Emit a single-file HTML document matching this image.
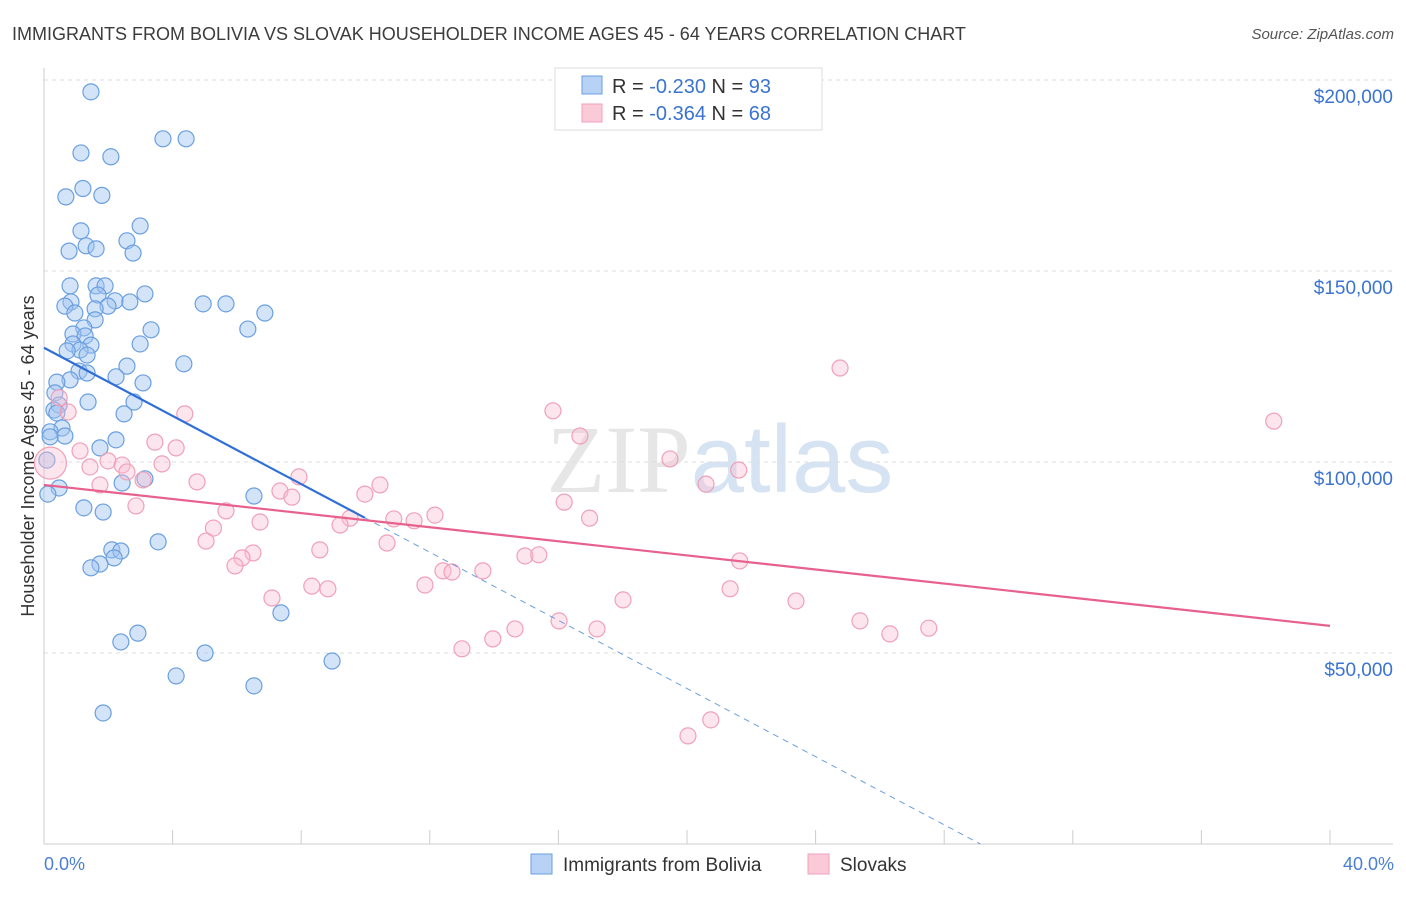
<!DOCTYPE html>
<html><head><meta charset="utf-8"><style>
body{margin:0;background:#fff;font-family:"Liberation Sans",sans-serif}
</style></head><body>
<svg id="chart" width="1406" height="892" xmlns="http://www.w3.org/2000/svg" font-family="Liberation Sans, sans-serif">
<text x="12" y="40" font-size="18" fill="#3c3c3c">IMMIGRANTS FROM BOLIVIA VS SLOVAK HOUSEHOLDER INCOME AGES 45 - 64 YEARS CORRELATION CHART</text>
<text x="1394" y="39" font-size="15" fill="#555" font-style="italic" text-anchor="end">Source: ZipAtlas.com</text>
<text x="720" y="492" font-size="96" text-anchor="middle" fill="#e6e6e6" font-family="Liberation Serif, serif">ZIP<tspan fill="#d5e3f3" font-family="Liberation Sans, sans-serif">atlas</tspan></text>
<g id="grid"></g><g id="axes"></g><g id="pts"></g><g id="trend"></g>
<text transform="translate(34,456) rotate(-90)" font-size="18" fill="#333" text-anchor="middle">Householder Income Ages 45 - 64 years</text>
<text x="44" y="870" font-size="18" fill="#4a7fd4">0.0%</text>
<text x="1394" y="870" font-size="18" fill="#4a7fd4" text-anchor="end">40.0%</text>
<g>
<rect x="555" y="68" width="267" height="62" fill="#fff" stroke="#ddd"/>
<rect x="582" y="76" width="20" height="18" fill="#b8d2f5" stroke="#6a9fe0"/>
<rect x="582" y="104" width="20" height="18" fill="#fbcad8" stroke="#f0a0b8"/>
<text x="612" y="93" font-size="20" fill="#333">R = <tspan fill="#3a74d0">-0.230</tspan>   N = <tspan fill="#3a74d0">93</tspan></text>
<text x="612" y="120" font-size="20" fill="#333">R = <tspan fill="#3a74d0">-0.364</tspan>   N = <tspan fill="#3a74d0">68</tspan></text>
</g>
<g><rect x="531" y="854" width="21" height="20" fill="#b8d2f5" stroke="#6a9fe0"/><text x="563" y="871" font-size="19" fill="#333">Immigrants from Bolivia</text></g>
<g><rect x="808" y="854" width="21" height="20" fill="#fbcad8" stroke="#f0a0b8"/><text x="840" y="871" font-size="19" fill="#333">Slovaks</text></g>
</svg>
<script>
const yTicks=[50,100,150,200];
const yTickLabels=["$50,000","$100,000","$150,000","$200,000"];
const xTicks=[0,4,8,12,16,20,24,28,32,36,40];
const blueX=[1.46,3.70,4.42,1.15,2.08,1.21,1.80,0.68,2.99,1.15,2.58,1.31,1.62,0.78,2.77,0.81,1.62,1.90,3.14,1.68,0.84,2.21,2.67,0.65,1.99,4.95,5.66,1.59,0.96,6.87,1.59,1.24,3.33,6.34,0.90,1.28,0.90,1.46,2.99,1.12,0.72,1.34,4.35,2.58,1.09,1.34,2.24,0.81,0.40,3.08,0.34,1.37,2.80,0.47,0.31,2.49,0.40,0.56,0.19,0.65,0.19,2.24,1.74,0.09,3.14,2.43,0.47,0.12,6.53,1.24,1.84,3.55,2.11,2.39,2.18,1.74,1.46,7.37,2.92,2.39,5.01,8.96,4.11,6.53,1.84];
const blueY=[196.9,184.6,184.6,180.9,179.9,171.6,169.8,169.4,161.8,160.5,157.9,156.6,155.8,155.2,154.7,146.1,146.1,146.1,144.0,143.7,141.9,142.2,141.9,140.8,140.8,141.4,141.4,140.1,139.0,139.0,137.2,135.1,134.6,134.8,133.5,133.0,130.9,130.6,130.9,129.3,129.1,128.0,125.7,125.1,123.8,123.3,122.3,121.5,120.9,120.7,118.1,115.7,115.7,114.9,113.6,112.6,112.8,108.9,107.9,106.8,106.6,105.8,103.7,100.5,95.6,94.5,93.2,91.6,91.1,88.0,86.9,79.1,77.0,76.7,74.9,73.3,72.3,60.5,55.2,52.9,50.0,47.9,44.0,41.4,34.3];
const pinkX=[0.2,24.76,38.25,15.83,4.38,0.47,0.75,16.67,3.45,4.11,1.12,19.47,1.99,3.67,2.43,1.43,21.61,2.58,7.93,3.08,10.45,20.59,1.74,4.76,7.34,9.98,7.71,16.18,2.86,5.66,12.16,16.97,6.72,10.88,11.51,9.52,9.21,5.27,5.04,10.67,8.58,6.50,6.16,14.96,15.39,21.64,5.94,12.41,12.69,13.65,11.85,8.33,8.83,21.34,7.09,18.01,23.39,16.02,25.38,14.65,17.20,27.52,26.31,13.96,13.00,20.74,20.03];
const pinkY=[99.7,124.6,110.7,113.4,112.6,116.8,113.1,106.8,105.2,103.7,102.9,100.8,100.3,99.5,99.2,98.7,97.9,97.4,96.1,95.3,94.0,94.2,94.0,94.8,92.4,91.6,90.8,89.5,88.5,87.2,86.1,85.3,84.3,85.1,84.6,85.3,83.5,82.7,79.3,78.8,77.0,76.2,74.9,75.4,75.7,74.1,72.8,71.5,71.2,71.5,67.8,67.5,66.8,66.8,64.4,63.9,63.6,58.4,58.4,56.3,56.3,56.5,55.0,53.7,51.1,32.5,28.3];
const blueTrend=[129.9,-4.46]; const blueSolidEnd=9.98;
const pinkTrend=[94.0,-0.9225];
const X=v=>44+v/40*1286, Y=v=>844-v/50*191;
const NS="http://www.w3.org/2000/svg";
function mk(p,t,a){const e=document.createElementNS(NS,t);for(const k in a)e.setAttribute(k,a[k]);document.getElementById(p).appendChild(e);return e;}
yTicks.forEach((t,i)=>{
 const l=mk('grid','line',{x1:44,x2:1393,y1:Y(t),y2:Y(t),stroke:'#ddd','stroke-dasharray':'4,4'});
 
 
 const tx=mk('grid','text',{x:1393,y:Y(t)+23,'font-size':19,fill:'#3a74d0','text-anchor':'end'});
 tx.textContent=yTickLabels[i];
 
 
});
const ax=mk('axes','line',{x1:44,x2:44,y1:68,y2:844,stroke:'#ccc'});


const bx=mk('axes','line',{x1:44,x2:1393,y1:844,y2:844,stroke:'#ccc'});


xTicks.forEach(t=>{const l=mk('axes','line',{x1:X(t),x2:X(t),y1:830,y2:844,stroke:'#ccc'});
 
 });
blueX.forEach((x,i)=>{const c=mk('pts','circle',{cx:X(x),cy:Y(blueY[i]),r:8,fill:'rgba(160,195,240,0.45)',stroke:'#6a9fe0','stroke-width':1.2});
 
 });
pinkX.forEach((x,i)=>{const c=mk('pts','circle',{cx:X(x),cy:Y(pinkY[i]),r:i==0?16:8,fill:'rgba(250,190,210,0.4)',stroke:'#f0a0b8','stroke-width':1.2});
 
 });
const bz=-blueTrend[0]/blueTrend[1];
const b1=mk('trend','line',{x1:X(0),y1:Y(blueTrend[0]),x2:X(blueSolidEnd),y2:Y(blueTrend[0]+blueTrend[1]*blueSolidEnd),stroke:'#2f6fd6','stroke-width':2.2});


const b2=mk('trend','line',{x1:X(blueSolidEnd),y1:Y(blueTrend[0]+blueTrend[1]*blueSolidEnd),x2:X(bz),y2:Y(0),stroke:'#6a9fe0','stroke-width':1,'stroke-dasharray':'6,5'});


const p1=mk('trend','line',{x1:X(0),y1:Y(pinkTrend[0]),x2:X(40),y2:Y(pinkTrend[0]+pinkTrend[1]*40),stroke:'#e8608c','stroke-width':2.2});


</script>
</body></html>
